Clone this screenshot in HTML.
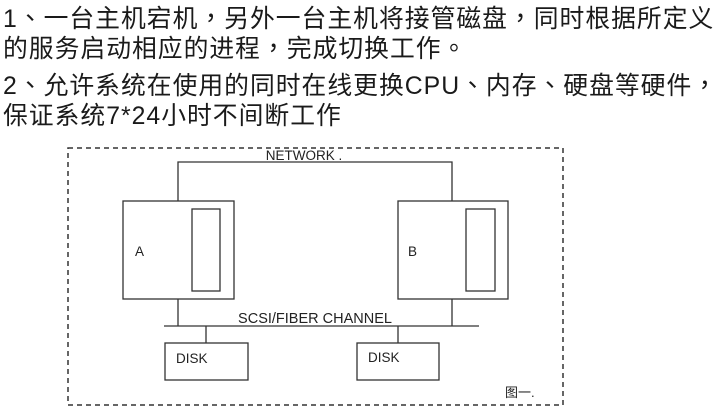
<!DOCTYPE html>
<html><head><meta charset="utf-8"><style>
html,body{margin:0;padding:0;background:#fff;width:718px;height:413px;overflow:hidden;position:relative}
.t{position:absolute;left:3px;font-family:"Liberation Sans","Noto Sans CJK TC",sans-serif;font-size:24.8px;letter-spacing:1px;color:#1a1a1a;white-space:nowrap;line-height:30px}
svg{position:absolute;left:0;top:0}
</style></head><body>
<div class="t" style="top:5px">1、一台主机宕机，另外一台主机将接管磁盘，同时根据所定义</div>
<div class="t" style="top:35px">的服务启动相应的进程，完成切换工作。</div>
<div class="t" style="top:72px">2、允许系统在使用的同时在线更换CPU、内存、硬盘等硬件，</div>
<div class="t" style="top:102px">保证系统7*24小时不间断工作</div>
<svg width="718" height="413" xmlns="http://www.w3.org/2000/svg" font-family="Liberation Sans, sans-serif" fill="none" stroke="#333" stroke-width="1.3">
<rect x="68" y="148" width="495" height="257" stroke-dasharray="5,4" stroke-width="1.5"/>
<path d="M178 201V162H452V201"/>
<rect x="123" y="201" width="111" height="98"/>
<rect x="192" y="209" width="28" height="82"/>
<rect x="398" y="201" width="110" height="98"/>
<rect x="466" y="209" width="29" height="82"/>
<path d="M178 299V326M452 299V326M164 326H479M206 326V343M398 326V343"/>
<rect x="165" y="343" width="83" height="37"/>
<rect x="357" y="343" width="82" height="37"/>
<g fill="#222" stroke="none" font-size="13.5">
<text x="304" y="160" text-anchor="middle">NETWORK .</text>
<text x="315" y="323" text-anchor="middle" font-size="14.5">SCSI/FIBER CHANNEL</text>
<text x="135" y="256">A</text>
<text x="408" y="256">B</text>
<text x="176" y="363">DISK</text>
<text x="368" y="362">DISK</text>
<text x="505" y="397" font-family="Liberation Sans, Noto Sans CJK SC, sans-serif" font-size="13">图一.</text>
</g>
</svg>
</body></html>
